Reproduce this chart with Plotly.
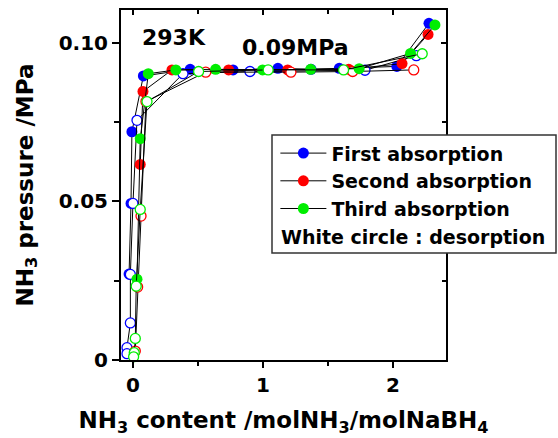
import plotly.graph_objects as go

# ---- data ----
abs1_x = [-0.03, -0.015, -0.008, 0.08, 0.44, 0.77, 1.115, 1.37, 1.587, 2.03, 2.277]
abs1_y = [0.0271, 0.0494, 0.072, 0.0896, 0.0917, 0.0915, 0.0920, 0.0917, 0.0920, 0.0926, 0.1062]
des1_x = [2.18, 1.785, 0.90, 0.385, 0.031, 0.0, -0.02, -0.02, -0.046, -0.046]
des1_y = [0.0960, 0.0914, 0.0910, 0.0903, 0.0756, 0.0494, 0.0270, 0.0117, 0.0039, 0.0020]

abs2_x = [0.056, 0.077, 0.30, 0.736, 1.19, 1.66, 2.07, 2.27]
abs2_y = [0.0617, 0.0847, 0.0915, 0.0915, 0.0915, 0.0917, 0.0935, 0.1027]
des2_x = [2.16, 1.69, 1.215, 0.56, 0.10, 0.062, 0.036, 0.018]
des2_y = [0.0915, 0.0910, 0.0908, 0.0908, 0.0815, 0.0454, 0.0230, 0.0028]

abs3_x = [0.031, 0.056, 0.118, 0.33, 0.636, 0.997, 1.367, 1.74, 2.135, 2.323]
abs3_y = [0.0255, 0.0698, 0.0903, 0.0915, 0.0917, 0.0915, 0.0917, 0.0919, 0.0967, 0.1057]
des3_x = [2.225, 1.62, 1.04, 0.505, 0.108, 0.056, 0.025, 0.018, 0.010, 0.005]
des3_y = [0.0966, 0.0915, 0.0915, 0.0910, 0.0815, 0.0475, 0.0233, 0.0068, 0.0023, 0.0010]

series_names = ["First absorption", "Second absorption", "Third absorption"]
series_colors = ["#0000ff", "#ff0000", "#00ee00"]

x_tickvals = [0, 1, 2]
x_ticktext = ["0", "1", "2"]
y_tickvals = [0, 0.05, 0.10]
y_ticktext = ["0", "0.05", "0.10"]

FONT = "DejaVu Sans"

fig = go.Figure()

pairs = [(abs1_x, abs1_y, des1_x, des1_y),
         (abs2_x, abs2_y, des2_x, des2_y),
         (abs3_x, abs3_y, des3_x, des3_y)]

for (ax, ay, dx, dy), name, col in zip(pairs, series_names, series_colors):
    fig.add_trace(go.Scatter(
        x=ax, y=ay, mode="lines+markers", name=name,
        line=dict(color="black", width=1),
        marker=dict(size=11, color=col, line=dict(width=0)),
        showlegend=True, cliponaxis=False))
    fig.add_trace(go.Scatter(
        x=dx, y=dy, mode="lines+markers", name=name + " (desorption)",
        line=dict(color="black", width=1),
        marker=dict(size=10, color="white", line=dict(width=1.3, color=col)),
        showlegend=False, cliponaxis=False))

# empty helper trace to create the mirrored (inside-tick) axes
fig.add_trace(go.Scatter(x=[], y=[], xaxis="x2", yaxis="y2", showlegend=False))

XR = [-0.092, 2.408]
YR = [0.0, 0.1104]

axis_font = dict(family=FONT, size=20, color="black", weight="bold")
title_font = dict(family=FONT, size=23, color="black", weight="bold")

fig.update_layout(
    width=558, height=438,
    margin=dict(l=121, r=112, t=10, b=78),
    paper_bgcolor="white", plot_bgcolor="white",
    font=dict(family=FONT, color="black"),
    xaxis=dict(range=XR, showgrid=False, zeroline=False,
               showline=True, linecolor="black", linewidth=2,
               ticks="outside", ticklen=6, tickwidth=1.5, tickcolor="black",
               tickvals=x_tickvals, ticktext=x_ticktext, tickfont=axis_font,
               minor=dict(tickvals=[0.5, 1.5], ticks="outside", ticklen=4, tickwidth=1.5, tickcolor="black"),
               title=dict(text="NH<sub>3</sub> content /molNH<sub>3</sub>/molNaBH<sub>4</sub>",
                          font=title_font, standoff=16)),
    yaxis=dict(range=YR, showgrid=False, zeroline=False,
               showline=True, linecolor="black", linewidth=2,
               ticks="outside", ticklen=7, tickwidth=1.5, tickcolor="black",
               tickvals=y_tickvals, ticktext=y_ticktext, tickfont=axis_font,
               minor=dict(tickvals=[0.025, 0.075], ticks="outside", ticklen=5, tickwidth=1.5, tickcolor="black"),
               title=dict(text="NH<sub>3</sub> pressure /MPa", font=title_font, standoff=19)),
    xaxis2=dict(range=XR, overlaying="x", side="top", anchor="y2", showgrid=False, zeroline=False,
                showline=True, linecolor="black", linewidth=2,
                ticks="inside", ticklen=5, tickwidth=1.5, tickcolor="black",
                tickvals=x_tickvals, showticklabels=False,
                minor=dict(tickvals=[0.5, 1.5], ticks="inside", ticklen=4, tickwidth=1.5, tickcolor="black")),
    yaxis2=dict(range=YR, overlaying="y", side="right", anchor="x2", showgrid=False, zeroline=False,
                showline=True, linecolor="black", linewidth=2,
                ticks="inside", ticklen=5, tickwidth=1.5, tickcolor="black",
                tickvals=y_tickvals, showticklabels=False,
                minor=dict(tickvals=[0.025, 0.075], ticks="inside", ticklen=4, tickwidth=1.5, tickcolor="black")),
    legend=dict(x=0.475, y=0.645, xanchor="left", yanchor="top",
                bgcolor="rgba(0,0,0,0)", borderwidth=0,
                font=dict(family=FONT, size=19, color="black", weight="bold"),
                itemwidth=46, tracegroupgap=0),
    showlegend=True,
)

# legend frame (white box covering the right frame line)
fig.add_shape(type="rect", xref="paper", yref="paper",
              x0=(272 - 121) / 325, x1=(556 - 121) / 325,
              y0=(360 - 253) / 350, y1=(360 - 135) / 350,
              fillcolor="white", line=dict(color="#333333", width=1.5), layer="above")

fig.add_annotation(text="White circle : desorption", xref="paper", yref="paper",
                   x=(279 - 121) / 325, y=(360 - 237) / 350, xanchor="left", yanchor="middle",
                   showarrow=False, font=dict(family=FONT, size=19, color="black", weight="bold"))

fig.add_annotation(text="293K", x=0.315, y=0.1017, xref="x", yref="y",
                   showarrow=False, font=dict(family=FONT, size=22, color="black", weight="bold"))
fig.add_annotation(text="0.09MPa", x=1.254, y=0.0986, xref="x", yref="y",
                   showarrow=False, font=dict(family=FONT, size=22, color="black", weight="bold"))

fig.write_html("out.html")
